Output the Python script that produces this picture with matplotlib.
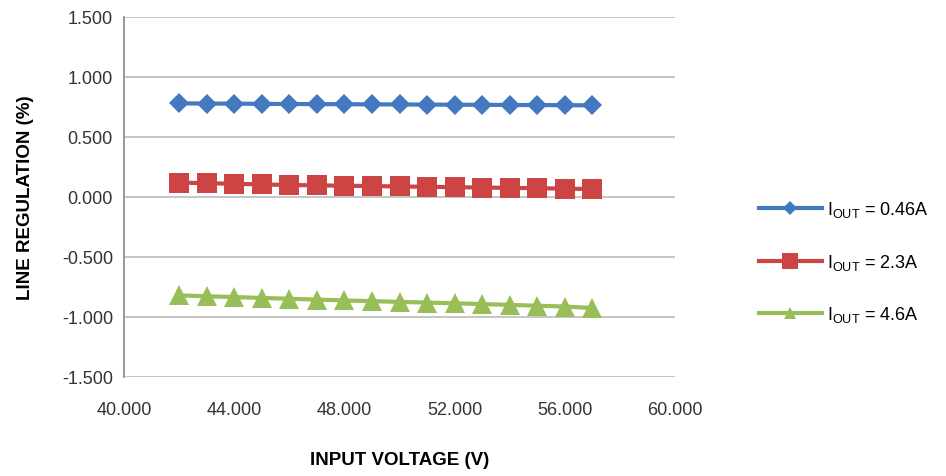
import matplotlib
matplotlib.use("Agg")
import matplotlib.pyplot as plt
import matplotlib.ticker as mticker

plt.rcParams["font.family"] = ["Liberation Sans", "DejaVu Sans"]
plt.rcParams["mathtext.fontset"] = "custom"
plt.rcParams["mathtext.rm"] = "Liberation Sans"

# input voltage (V)
vin = [42, 43, 44, 45, 46, 47, 48, 49, 50, 51, 52, 53, 54, 55, 56, 57]

# line regulation (%) per load current
reg_046 = [0.780, 0.779, 0.778, 0.776, 0.775, 0.774, 0.773, 0.772,
           0.771, 0.770, 0.769, 0.768, 0.767, 0.766, 0.765, 0.764]
reg_23 = [0.120, 0.115, 0.110, 0.105, 0.100, 0.097, 0.094, 0.091,
          0.088, 0.085, 0.082, 0.079, 0.076, 0.073, 0.070, 0.066]
reg_46 = [-0.820, -0.827, -0.834, -0.841, -0.848, -0.855, -0.862, -0.868,
          -0.874, -0.880, -0.886, -0.892, -0.899, -0.906, -0.913, -0.925]

labels = [r"I$_{\mathrm{OUT}}$ = 0.46A",
          r"I$_{\mathrm{OUT}}$ = 2.3A",
          r"I$_{\mathrm{OUT}}$ = 4.6A"]
colors = ["#4478C0", "#CC4444", "#98BE58"]
markers = ["D", "s", "^"]
msizes = [10, 14, 14]
leg_msizes = [7, 11, 9]

fig = plt.figure(figsize=(9.46, 4.77), dpi=100)
ax = fig.add_axes([124 / 946, 1 - 378 / 477, (675 - 124) / 946, 360 / 477])

for ys, lab, c, m, ms in zip([reg_046, reg_23, reg_46], labels, colors, markers, msizes):
    ax.plot(vin, ys, color=c, lw=3, marker=m, markersize=ms,
            markeredgewidth=0, label=lab)

ax.set_xlim(40, 60)
ax.set_ylim(-1.5, 1.5)
ax.xaxis.set_major_locator(mticker.MultipleLocator(4))
ax.yaxis.set_major_locator(mticker.MultipleLocator(0.5))
ax.xaxis.set_major_formatter(mticker.FormatStrFormatter("%.3f"))
ax.yaxis.set_major_formatter(mticker.FormatStrFormatter("%.3f"))
ax.tick_params(length=0, labelsize=13, labelcolor="#333333")
ax.tick_params(axis="x", pad=17)
ax.tick_params(axis="y", pad=8)

ax.grid(axis="y", color="#BBBBBB", lw=1.2)
ax.set_axisbelow(True)
for s in ["top", "right", "bottom"]:
    ax.spines[s].set_visible(False)
ax.spines["left"].set_color("#888888")
ax.spines["left"].set_linewidth(1.2)

ax.set_xlabel("INPUT VOLTAGE (V)", fontsize=13.5, fontweight="bold", labelpad=24)
ax.set_ylabel("LINE REGULATION (%)", fontsize=13.5, fontweight="bold", labelpad=20)

leg = fig.legend(loc="center left", bbox_to_anchor=(743 / 946, 1 - 263 / 477),
                 frameon=False, fontsize=13, handlelength=3.45, labelspacing=1.8,
                 handletextpad=0.3)
for h, ms in zip(leg.legend_handles, leg_msizes):
    h.set_markersize(ms)

fig.savefig("out.png", dpi=100)
